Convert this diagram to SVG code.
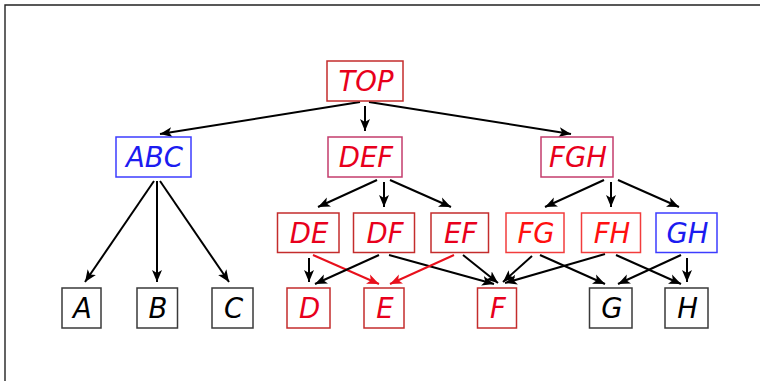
<svg xmlns="http://www.w3.org/2000/svg" width="760" height="381" viewBox="0 0 760 381">
  <style>
    .frame { fill: none; stroke: #222; stroke-width: 1.4; }
    .box { stroke-width: 1.5; fill: #fff; }
    .lbl { font-family: "DejaVu Sans", "Liberation Sans", sans-serif; font-style: italic; font-size: 27.5px; text-anchor: middle; }
    .red .box { stroke: #c42c2c; }
    .red .lbl { fill: #e8001c; }
    .mag .box { stroke: #c43c6c; }
    .mag .lbl { fill: #e8001c; }
    .lred .box { stroke: #f23c3c; }
    .lred .lbl { fill: #ff1010; }
    .blue .box { stroke: #3c3cff; }
    .blue .lbl { fill: #1c1cf0; }
    .blk .box { stroke: #3a3a3a; }
    .blk .lbl { fill: #000; }
    .edge { fill: none; stroke: #000; stroke-width: 2; marker-end: url(#ah); }
    .edge.hot { stroke: #e8101c; marker-end: url(#ahr); }
  </style>
  <defs>
    <marker id="ah" markerUnits="userSpaceOnUse" markerWidth="14" markerHeight="12" refX="12" refY="5" orient="auto" viewBox="0 0 14 10">
      <path d="M12,5 L0,0 L3,5 L0,10 Z" fill="#000"/>
    </marker>
    <marker id="ahr" markerUnits="userSpaceOnUse" markerWidth="14" markerHeight="12" refX="12" refY="5" orient="auto" viewBox="0 0 14 10">
      <path d="M12,5 L0,0 L3,5 L0,10 Z" fill="#e8101c"/>
    </marker>
  </defs>

  <!-- outer frame -->
  <path class="frame" d="M5,381 V5 H760"/>

  <!-- connectors -->
  <g id="edges">
    <line class="edge" x1="360" y1="102" x2="160" y2="134"/>
    <line class="edge" x1="365" y1="106" x2="365" y2="131"/>
    <line class="edge" x1="369" y1="102" x2="571" y2="134"/>

    <line class="edge" x1="154" y1="181" x2="85" y2="282"/>
    <line class="edge" x1="157" y1="181" x2="157" y2="282"/>
    <line class="edge" x1="160" y1="181" x2="229" y2="282"/>

    <line class="edge" x1="377" y1="180" x2="318" y2="207"/>
    <line class="edge" x1="384" y1="182" x2="384" y2="207"/>
    <line class="edge" x1="390" y1="180" x2="451" y2="207"/>

    <line class="edge" x1="604" y1="180" x2="545" y2="207"/>
    <line class="edge" x1="611" y1="182" x2="611" y2="207"/>
    <line class="edge" x1="618" y1="180" x2="679" y2="207"/>

    <line class="edge" x1="309" y1="258" x2="309" y2="282"/>
    <line class="edge hot" x1="313" y1="255" x2="379" y2="284"/>
    <line class="edge" x1="379" y1="255" x2="315" y2="284"/>
    <line class="edge" x1="389" y1="255" x2="494" y2="284"/>
    <line class="edge hot" x1="454" y1="255" x2="390" y2="284"/>
    <line class="edge" x1="463" y1="255" x2="498" y2="283"/>

    <line class="edge" x1="532" y1="256" x2="503" y2="282"/>
    <line class="edge" x1="605" y1="254" x2="505" y2="283"/>
    <line class="edge" x1="540" y1="255" x2="605" y2="284"/>
    <line class="edge" x1="616" y1="255" x2="681" y2="284"/>
    <line class="edge" x1="681" y1="255" x2="618" y2="284"/>
    <line class="edge" x1="687" y1="258" x2="687" y2="282"/>
  </g>

  <!-- level 0 -->
  <g id="TOP" class="red"><rect class="box" x="327" y="61" width="76" height="40"/><text class="lbl" x="366" y="91">TOP</text></g>

  <!-- level 1 -->
  <g id="ABC" class="blue"><rect class="box" x="116" y="137" width="75" height="40"/><text class="lbl" x="154.5" y="167">ABC</text></g>
  <g id="DEF" class="mag"><rect class="box" x="328" y="137" width="74" height="40"/><text class="lbl" x="366" y="167">DEF</text></g>
  <g id="FGH" class="mag"><rect class="box" x="541" y="137" width="72" height="40"/><text class="lbl" x="578" y="167">FGH</text></g>

  <!-- level 2 -->
  <g id="DE" class="red"><rect class="box" x="277.5" y="213" width="61.5" height="39.5"/><text class="lbl" x="309" y="242.5">DE</text></g>
  <g id="DF" class="red"><rect class="box" x="353.5" y="213" width="61" height="39.5"/><text class="lbl" x="385" y="242.5">DF</text></g>
  <g id="EF" class="red"><rect class="box" x="431" y="213" width="57.5" height="39.5"/><text class="lbl" x="460.5" y="242.5">EF</text></g>
  <g id="FG" class="lred"><rect class="box" x="506" y="213" width="58" height="39.5"/><text class="lbl" x="536" y="242.5">FG</text></g>
  <g id="FH" class="lred"><rect class="box" x="581.5" y="213" width="59" height="39.5"/><text class="lbl" x="612" y="242.5">FH</text></g>
  <g id="GH" class="blue"><rect class="box" x="656" y="213" width="61" height="39.5"/><text class="lbl" x="687.5" y="242.5">GH</text></g>

  <!-- leaves -->
  <g id="A" class="blk"><rect class="box" x="62" y="288" width="39" height="40"/><text class="lbl" x="82.5" y="318">A</text></g>
  <g id="B" class="blk"><rect class="box" x="137" y="288" width="40.5" height="40"/><text class="lbl" x="158" y="318">B</text></g>
  <g id="C" class="blk"><rect class="box" x="212" y="288" width="41" height="40"/><text class="lbl" x="233.5" y="318">C</text></g>
  <g id="D" class="red"><rect class="box" x="287" y="288" width="43" height="40"/><text class="lbl" x="309.5" y="318">D</text></g>
  <g id="E" class="red"><rect class="box" x="364" y="288" width="40" height="40"/><text class="lbl" x="385" y="318">E</text></g>
  <g id="F" class="red"><rect class="box" x="477.5" y="288" width="39" height="40"/><text class="lbl" x="498" y="318">F</text></g>
  <g id="G" class="blk"><rect class="box" x="589.5" y="288" width="42.5" height="40"/><text class="lbl" x="612" y="318">G</text></g>
  <g id="H" class="blk"><rect class="box" x="665" y="288" width="43" height="40"/><text class="lbl" x="687.5" y="318">H</text></g>
</svg>
